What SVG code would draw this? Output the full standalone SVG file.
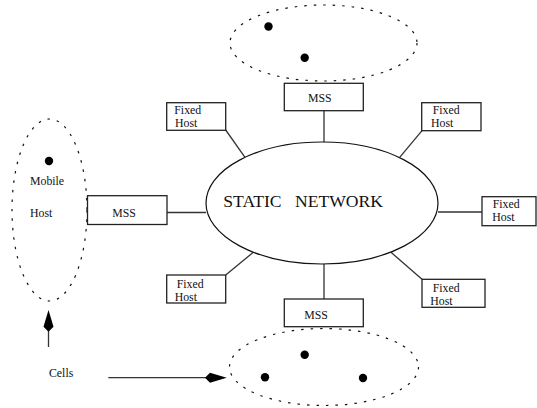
<svg xmlns="http://www.w3.org/2000/svg" width="537" height="408" viewBox="0 0 537 408">
<style>
text{font-family:"Liberation Serif","Times New Roman",serif;font-size:11.8px;fill:#111}
.box{fill:#fff;stroke:#222;stroke-width:1.3}
.cell{fill:none;stroke:#111;stroke-width:1.2;stroke-dasharray:2.5 7}
.dot{fill:#000}
.con{stroke:#333;stroke-width:1.3;fill:none}
.net{fill:#fff;stroke:#111;stroke-width:1.2}
</style>
<rect width="537" height="408" fill="#fff"/>
<g id="connectors">
<line class="con" x1="324" y1="110.5" x2="324" y2="143"/>
<line class="con" x1="324" y1="264" x2="324" y2="299"/>
<line class="con" x1="166.7" y1="212.5" x2="206" y2="212.5"/>
<line class="con" x1="438" y1="212" x2="482" y2="212"/>
<line class="con" x1="225.7" y1="130" x2="245" y2="157.3"/>
<line class="con" x1="422" y1="130.7" x2="399.7" y2="157.3"/>
<line class="con" x1="225.7" y1="275" x2="253.3" y2="252.3"/>
<line class="con" x1="422" y1="279.3" x2="391" y2="252.3"/>
<line class="con" x1="48.5" y1="347" x2="48.5" y2="328"/>
<polygon fill="#000" points="48.5,310 53.5,326.7 48.5,331.7 43.5,326.7"/>
<line class="con" x1="108.3" y1="377.7" x2="208" y2="377.7"/>
<polygon fill="#000" points="226.7,377.7 210,372.7 205,377.7 210,382.7"/>
</g>
<g id="static-network">
<ellipse class="net" cx="322" cy="203" rx="116" ry="61"/>
<text x="223.3" y="206.7" style="font-size:17.6px">STATIC</text>
<text x="295" y="206.7" style="font-size:17.6px">NETWORK</text>
</g>
<g id="cell-top">
<ellipse class="cell" cx="323.5" cy="43" rx="93.5" ry="38"/>
<circle class="dot" cx="268.5" cy="26.5" r="4.2"/>
<circle class="dot" cx="304.7" cy="57.7" r="4.2"/>
</g>
<g id="cell-bottom">
<ellipse class="cell" cx="324" cy="367" rx="94.5" ry="38.5"/>
<circle class="dot" cx="304.7" cy="354.7" r="4.2"/>
<circle class="dot" cx="363" cy="378" r="4.2"/>
<circle class="dot" cx="265" cy="377.3" r="4.2"/>
</g>
<g id="cell-left">
<ellipse class="cell" cx="49.5" cy="210" rx="37.5" ry="91"/>
<circle class="dot" cx="49" cy="161" r="4.2"/>
<text x="30" y="185">Mobile</text>
<text x="30" y="216.7">Host</text>
</g>
<g id="mss-top">
<rect class="box" x="284.3" y="83.3" width="79" height="27.4"/>
<text x="308" y="101.7">MSS</text>
</g>
<g id="mss-bottom">
<rect class="box" x="284.3" y="299" width="79" height="27.7"/>
<text x="304.3" y="319">MSS</text>
</g>
<g id="mss-left">
<rect class="box" x="87.5" y="195.7" width="79.5" height="28.8"/>
<text x="112.3" y="216.7">MSS</text>
</g>
<g id="fixed-host-tl">
<rect class="box" x="166.7" y="102.7" width="59" height="27.6"/>
<text x="174.3" y="114.3">Fixed</text>
<text x="175" y="126.9">Host</text>
</g>
<g id="fixed-host-tr">
<rect class="box" x="421.7" y="102.7" width="59.3" height="28"/>
<text x="432.7" y="114.3">Fixed</text>
<text x="431" y="126.9">Host</text>
</g>
<g id="fixed-host-r">
<rect class="box" x="482" y="196.7" width="54" height="29"/>
<text x="492.7" y="208.2">Fixed</text>
<text x="492.3" y="221">Host</text>
</g>
<g id="fixed-host-br">
<rect class="box" x="422" y="279.3" width="63" height="28"/>
<text x="432.7" y="292.2">Fixed</text>
<text x="430.3" y="305">Host</text>
</g>
<g id="fixed-host-bl">
<rect class="box" x="166.7" y="275" width="59" height="28"/>
<text x="176.7" y="288.3">Fixed</text>
<text x="174.7" y="301.1">Host</text>
</g>
<g id="label-cells">
<text x="49" y="377.3">Cells</text>
</g>
</svg>
